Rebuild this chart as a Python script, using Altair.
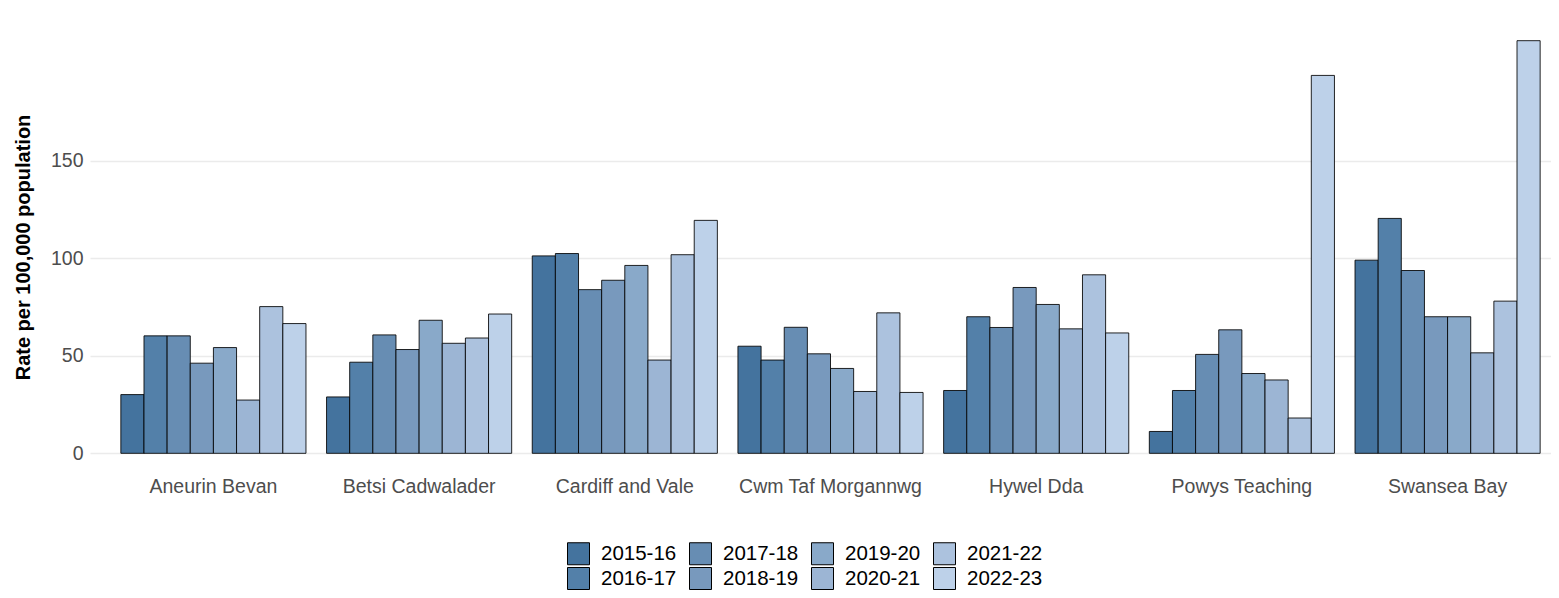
import altair as alt
import pandas as pd

boards = ["Aneurin Bevan", "Betsi Cadwalader", "Cardiff and Vale", "Cwm Taf Morgannwg",
          "Hywel Dda", "Powys Teaching", "Swansea Bay"]
years = ["2015-16", "2016-17", "2017-18", "2018-19", "2019-20", "2020-21", "2021-22", "2022-23"]
colors = ["#44739e", "#5380a9", "#678db3", "#7899bd", "#89a9c9", "#9cb5d4", "#acc2de", "#bdd1e9"]

aneurin_bevan = [30.1, 60.2, 60.2, 46.2, 54.2, 27.3, 75.2, 66.5]
betsi_cadwalader = [28.9, 46.7, 60.7, 53.2, 68.2, 56.4, 59.1, 71.4]
cardiff_and_vale = [101.2, 102.4, 83.9, 88.7, 96.3, 47.8, 101.8, 119.4]
cwm_taf = [54.9, 47.8, 64.6, 51.0, 43.5, 31.7, 72.0, 31.2]
hywel_dda = [32.2, 70.0, 64.5, 85.0, 76.3, 63.8, 91.5, 61.7]
powys = [11.2, 32.2, 50.7, 63.3, 40.9, 37.6, 18.1, 193.7]
swansea = [99.0, 120.4, 93.7, 70.0, 70.0, 51.5, 78.0, 211.5]

series = [aneurin_bevan, betsi_cadwalader, cardiff_and_vale, cwm_taf, hywel_dda, powys, swansea]

rows = []
for b, vals in zip(boards, series):
    for y, v in zip(years, vals):
        rows.append({"board": b, "year": y, "rate": v})
df = pd.DataFrame(rows)

bars = alt.Chart(df).mark_bar(stroke="black", strokeWidth=1, strokeOpacity=0.85).encode(
    x=alt.X("board:N", sort=boards, title=None,
            scale=alt.Scale(range=[0, 1481], paddingInner=0.1, paddingOuter=0.15),
            axis=alt.Axis(labelAngle=0, labelFontSize=19.5, labelColor="#4d4d4d",
                          labelPadding=3, labelLimit=400, domain=False, ticks=False,
                          grid=False)),
    xOffset=alt.XOffset("year:N", sort=years,
                        scale=alt.Scale(paddingInner=0, paddingOuter=0)),
    y=alt.Y("rate:Q", title="Rate per 100,000 population",
            scale=alt.Scale(domain=[-10.6, 222.1], nice=False, zero=False),
            axis=alt.Axis(values=[0, 50, 100, 150], labelFontSize=19.5, labelColor="#4d4d4d",
                          labelPadding=7, domain=False, ticks=False, grid=True,
                          gridColor="#ebebeb", gridWidth=1.4,
                          titleFontSize=20, titleFontWeight="bold", titleColor="black",
                          titleX=-57)),
    y2=alt.datum(0),
    color=alt.Color("year:N", scale=alt.Scale(domain=years, range=colors),
                    legend=alt.Legend(title=None, orient="none", legendX=477, legendY=522,
                                      columns=4, symbolType="square", symbolSize=484,
                                      symbolStrokeColor="black", symbolStrokeWidth=1,
                                      symbolOpacity=1, labelFontSize=20.5, labelColor="black",
                                      labelOffset=11, columnPadding=10, rowPadding=-4,
                                      padding=0)),
)

chart = bars.properties(
    width=1461, height=454,
    padding={"left": 82, "top": 12, "right": 0, "bottom": 116},
    autosize=alt.AutoSizeParams(type="none"),
).configure(font="Liberation Sans").configure_view(stroke=None)

chart.save("out.html", embed_options={"renderer": "svg", "actions": False})
